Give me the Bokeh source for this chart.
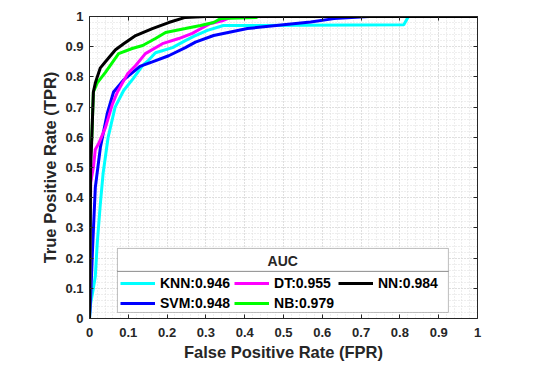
from bokeh.plotting import figure
from bokeh.models import (Range1d, LinearAxis, FixedTicker, Legend, LegendItem,
                          BoxAnnotation, Label, CustomLabelingPolicy)
from bokeh.embed import file_html
from bokeh.resources import INLINE

# ---------------- data ----------------
knn_fpr = [0, 0.003, 0.01, 0.015, 0.02, 0.028, 0.035, 0.048, 0.066, 0.088, 0.113, 0.137,
           0.152, 0.17, 0.214, 0.247, 0.27, 0.304, 0.345, 0.81, 0.822, 1.0]
knn_tpr = [0, 0.05, 0.10, 0.14, 0.25, 0.38, 0.48, 0.60, 0.70, 0.755, 0.795, 0.838,
           0.855, 0.88, 0.897, 0.92, 0.935, 0.954, 0.97, 0.973, 1.0, 1.0]

svm_fpr = [0, 0.004, 0.008, 0.015, 0.028, 0.046, 0.062, 0.088, 0.13, 0.162, 0.204, 0.247,
           0.273, 0.32, 0.407, 0.5, 0.57, 0.63, 0.72, 1.0]
svm_tpr = [0, 0.10, 0.235, 0.434, 0.566, 0.68, 0.75, 0.79, 0.835, 0.85, 0.87, 0.897,
           0.915, 0.937, 0.96, 0.973, 0.982, 0.993, 1.0, 1.0]

dt_fpr = [0, 0.003, 0.01, 0.015, 0.024, 0.041, 0.059, 0.072, 0.098, 0.119, 0.144, 0.188,
          0.23, 0.265, 0.29, 0.312, 0.345, 0.356, 0.37, 1.0]
dt_tpr = [0, 0.45, 0.50, 0.56, 0.58, 0.632, 0.71, 0.75, 0.81, 0.838, 0.877, 0.91,
          0.927, 0.944, 0.962, 0.977, 0.987, 0.993, 1.0, 1.0]

nb_fpr = [0, 0.002, 0.006, 0.01, 0.02, 0.041, 0.06, 0.075, 0.11, 0.137, 0.17, 0.196,
          0.247, 0.286, 0.32, 0.338, 0.43, 0.435, 1.0]
nb_tpr = [0, 0.53, 0.60, 0.75, 0.78, 0.815, 0.85, 0.877, 0.894, 0.904, 0.927, 0.947,
          0.96, 0.97, 0.98, 0.993, 0.997, 1.0, 1.0]

nn_fpr = [0, 0.003, 0.006, 0.01, 0.015, 0.02, 0.028, 0.041, 0.067, 0.088, 0.119, 0.162,
          0.204, 0.247, 0.30, 1.0]
nn_tpr = [0, 0.50, 0.60, 0.75, 0.78, 0.80, 0.83, 0.85, 0.89, 0.91, 0.937, 0.96,
          0.98, 0.997, 1.0, 1.0]

model_names = ["KNN", "SVM", "DT", "NB", "NN"]
auc_values = [0.946, 0.948, 0.955, 0.979, 0.984]
model_colors = ["#00FFFF", "#0000FF", "#FF00FF", "#00FF00", "#000000"]

tick_values = [0, 0.1, 0.2, 0.3, 0.4, 0.5, 0.6, 0.7, 0.8, 0.9, 1]
tick_labels = ["0", "0.1", "0.2", "0.3", "0.4", "0.5", "0.6", "0.7", "0.8", "0.9", "1"]

FONT = "Liberation Sans"
TXT = "#262626"

# ---------------- figure ----------------
p = figure(frame_width=388, frame_height=302,
           x_range=Range1d(0, 1), y_range=Range1d(0, 1),
           output_backend="svg", toolbar_location=None,
           min_border_left=89, min_border_top=16, min_border_right=40, min_border_bottom=40,
           x_axis_label="False Positive Rate (FPR)",
           y_axis_label="True Positive Rate (TPR)")
p.outline_line_color = None
p.background_fill_color = "white"

overrides = {v: s for v, s in zip(tick_values, tick_labels)}
minor = [i / 50 for i in range(51)]

for ax in (p.xaxis[0], p.yaxis[0]):
    ax.ticker = FixedTicker(ticks=tick_values, minor_ticks=minor)
    ax.major_label_overrides = overrides
    ax.major_tick_in = 4
    ax.major_tick_out = 0
    ax.minor_tick_in = 0
    ax.minor_tick_out = 0
    ax.axis_line_color = TXT
    ax.major_tick_line_color = TXT
    ax.major_label_text_font = FONT
    ax.major_label_text_font_style = "bold"
    ax.major_label_text_font_size = "13px"
    ax.major_label_text_color = TXT
    ax.axis_label_text_font = FONT
    ax.axis_label_text_font_style = "bold"
    ax.axis_label_text_color = TXT
    ax.axis_label_text_font_size = "16.5px"

p.xaxis[0].major_label_standoff = 9
p.xaxis[0].axis_label_standoff = 3
p.yaxis[0].major_label_standoff = 6
p.yaxis[0].axis_label_standoff = 3

for loc in ("above", "right"):
    ax2 = LinearAxis(ticker=FixedTicker(ticks=tick_values),
                     major_label_policy=CustomLabelingPolicy(code="return []"))
    ax2.major_label_text_font_size = "1px"
    ax2.major_label_standoff = 0
    ax2.major_tick_in = 4
    ax2.major_tick_out = 0
    ax2.minor_tick_in = 0
    ax2.minor_tick_out = 0
    ax2.axis_line_color = TXT
    ax2.major_tick_line_color = TXT
    p.add_layout(ax2, loc)

for g in (p.xgrid[0], p.ygrid[0]):
    g.ticker = FixedTicker(ticks=tick_values, minor_ticks=minor)
    g.grid_line_color = "#d0d0d0"
    g.grid_line_dash = "1 2"
    g.minor_grid_line_color = "#dcdcdc"
    g.minor_grid_line_dash = "1 2"

series_x = [knn_fpr, svm_fpr, dt_fpr, nb_fpr, nn_fpr]
series_y = [knn_tpr, svm_tpr, dt_tpr, nb_tpr, nn_tpr]
renderers = []
for xs, ys, c in zip(series_x, series_y, model_colors):
    r = p.line(xs, ys, line_color=c, line_width=3)
    renderers.append(r)

# ---------------- legend ----------------
box = BoxAnnotation(left=0.072, right=0.925, bottom=0.02, top=0.232,
                    fill_color="white", fill_alpha=1.0,
                    line_color=TXT, line_width=1)
p.add_layout(box)
sep = BoxAnnotation(left=0.072, right=0.925, bottom=0.156, top=0.156,
                    fill_alpha=0, line_color=TXT, line_width=1)
p.add_layout(sep)
p.add_layout(Label(x=0.498, y=0.189, text="AUC", text_align="center",
                   text_baseline="middle", text_font=FONT,
                   text_font_style="bold", text_font_size="14px", text_color=TXT))

labels = [f"{n}:{a:.3f}" for n, a in zip(model_names, auc_values)]
# Bokeh fills the grid column by column: KNN,SVM | DT,NB | NN
items = [LegendItem(label=labels[i], renderers=[renderers[i]]) for i in range(5)]
legend = Legend(items=items, ncols=3, location=(31, 7),
                background_fill_alpha=0, border_line_alpha=0,
                padding=0, margin=0, spacing=4,
                glyph_width=35, glyph_height=14, label_height=14,
                label_standoff=5,
                label_text_font=FONT, label_text_font_style="bold",
                label_text_font_size="14px", label_text_color="#000000")
p.add_layout(legend)

open("out.html", "w").write(file_html(p, INLINE))
